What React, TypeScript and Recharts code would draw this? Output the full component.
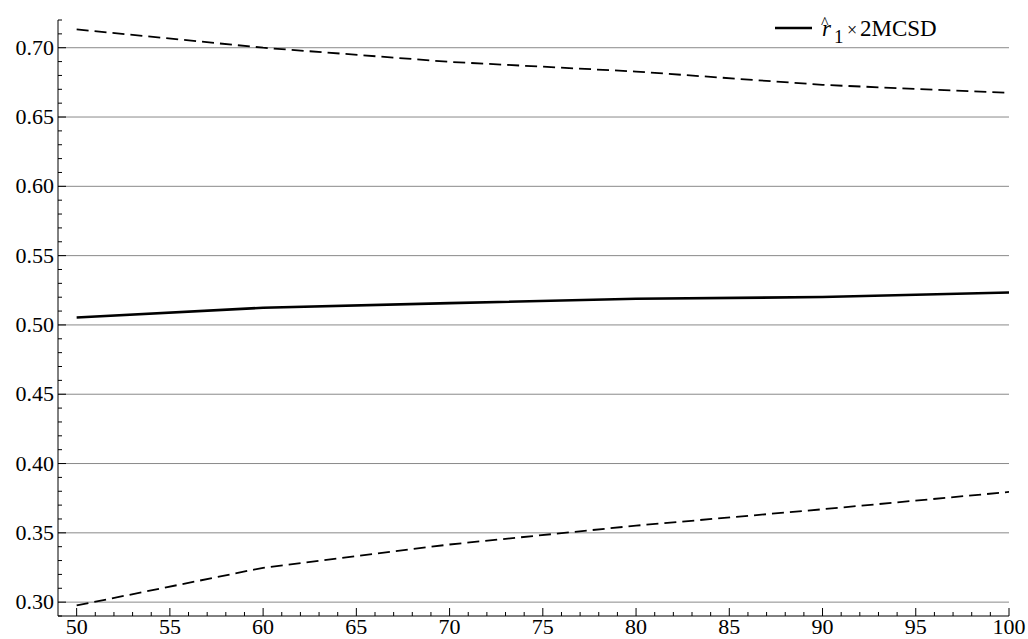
import React from 'react';
import { LineChart, Line, XAxis, YAxis, ReferenceLine, Legend } from 'recharts';

const sampleSizes = [50, 60, 70, 80, 90, 100];
const estimate = [0.5054, 0.5124, 0.5157, 0.5189, 0.5201, 0.5234];
const upperBand = [0.7132, 0.7, 0.6898, 0.6828, 0.6732, 0.6674];
const lowerBand = [0.2976, 0.3248, 0.3416, 0.3552, 0.367, 0.3795];

const yMajorTicks = [0.3, 0.35, 0.4, 0.45, 0.5, 0.55, 0.6, 0.65, 0.7];
const xMajorTicks = [50, 55, 60, 65, 70, 75, 80, 85, 90, 95, 100];

const data = sampleSizes.map((n, i) => ({
  n,
  est: estimate[i],
  upper: upperBand[i],
  lower: lowerBand[i],
}));

const xAllTicks: number[] = [];
for (let v = 50; v <= 100; v++) xAllTicks.push(v);
const yAllTicks: number[] = [];
for (let k = 29; k <= 72; k++) yAllTicks.push(k / 100);

const FONT = "'Liberation Serif', 'Times New Roman', serif";

const XTick = (props: any) => {
  const { x, y, payload } = props;
  const v = payload.value;
  const major = xMajorTicks.includes(v);
  return (
    <g>
      <line x1={x} y1={y} x2={x} y2={y - (major ? 8 : 4)} stroke="#000" strokeWidth={1} />
      {major && (
        <text x={x} y={y + 18} textAnchor="middle" style={{ fontFamily: FONT, fontSize: 22 }} fill="#000">
          {v}
        </text>
      )}
    </g>
  );
};

const YTick = (props: any) => {
  const { x, y, payload } = props;
  const v = payload.value;
  const major = yMajorTicks.some((t) => Math.abs(t - v) < 1e-6);
  return (
    <g>
      <line x1={x} y1={y} x2={x + (major ? 8 : 4)} y2={y} stroke="#000" strokeWidth={1} />
      {major && (
        <text x={x - 4} y={y + 7} textAnchor="end" style={{ fontFamily: FONT, fontSize: 22 }} fill="#000">
          {v.toFixed(2)}
        </text>
      )}
    </g>
  );
};

const LegendContent = () => (
  <svg width={250} height={50} style={{ display: 'block', overflow: 'visible' }}>
    <line x1={5} y1={28} x2={42} y2={28} stroke="#000" strokeWidth={2.5} />
    <text x={52} y={36} style={{ fontFamily: FONT, fontSize: 23, fontStyle: 'italic' }} fill="#000">r</text>
    <text x={51} y={28} style={{ fontFamily: FONT, fontSize: 16 }} fill="#000">^</text>
    <text x={64} y={43} style={{ fontFamily: FONT, fontSize: 19 }} fill="#000">1</text>
    <text x={77} y={36} style={{ fontFamily: FONT, fontSize: 23 }} fill="#000">
      <tspan style={{ fontSize: 18 }}>×</tspan>
      <tspan x={90}>2MCSD</tspan>
    </text>
  </svg>
);

export default function App() {
  return (
    <div style={{ position: 'absolute', left: 0, top: 0, width: 1028, height: 639, background: '#fff' }}>
      <LineChart
        width={1028}
        height={639}
        data={data}
        margin={{ top: 20, right: 19, bottom: 0, left: 0 }}
      >
        <XAxis
          dataKey="n"
          type="number"
          domain={[49, 100]}
          ticks={xAllTicks}
          interval={0}
          tickSize={0}
          tickMargin={0}
          tickLine={false}
          tick={<XTick />}
          axisLine={{ stroke: '#000', strokeWidth: 1 }}
          height={23}
          allowDataOverflow
        />
        <YAxis
          type="number"
          domain={[0.29, 0.72]}
          ticks={yAllTicks}
          interval={0}
          tickSize={0}
          tickMargin={0}
          tickLine={false}
          tick={<YTick />}
          axisLine={{ stroke: '#000', strokeWidth: 1 }}
          width={58}
          allowDataOverflow
        />
        {yMajorTicks.map((t) => (
          <ReferenceLine key={t} y={t} stroke="#8a8a8a" strokeWidth={1} ifOverflow="extendDomain" />
        ))}
        <Legend
          layout="horizontal"
          verticalAlign="middle"
          align="center"
          content={<LegendContent />}
          wrapperStyle={{ position: 'absolute', top: 0, left: 770, width: 250, height: 50 }}
        />
        <Line dataKey="upper" stroke="#000" strokeWidth={1.8} strokeDasharray="12 6" dot={false} isAnimationActive={false} />
        <Line dataKey="est" stroke="#000" strokeWidth={2.6} dot={false} isAnimationActive={false} />
        <Line dataKey="lower" stroke="#000" strokeWidth={1.8} strokeDasharray="12 6" dot={false} isAnimationActive={false} />
      </LineChart>
    </div>
  );
}
